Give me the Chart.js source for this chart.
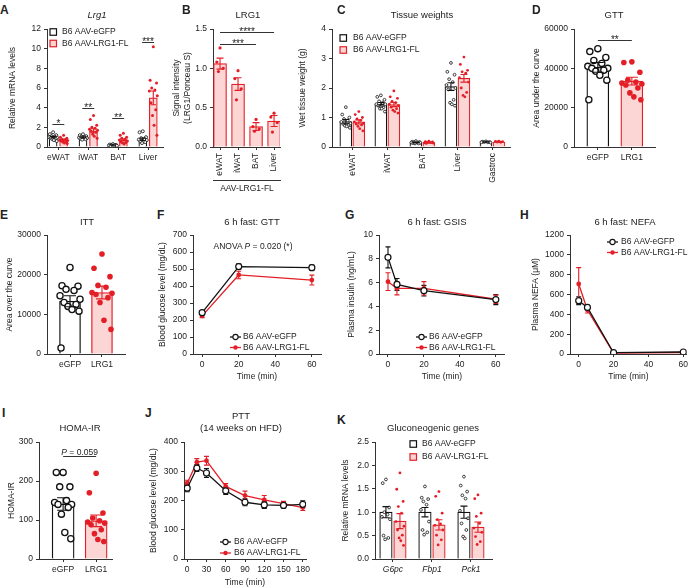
<!DOCTYPE html>
<html><head><meta charset="utf-8">
<script src="https://cdn.jsdelivr.net/npm/chart.js@4/dist/chart.umd.min.js"></script>
<style>
html,body{margin:0;padding:0;background:#fff}
body{position:relative;width:692px;height:588px;overflow:hidden;font-family:'Liberation Sans',Arial,Helvetica,sans-serif;color:#222}
canvas{position:absolute}
.t{position:absolute;transform:translate(-50%,-50%);white-space:nowrap;font-size:9.5px;line-height:1}
.s{font-size:8.5px}
.L{position:absolute;font-weight:bold;font-size:12px;line-height:12px}
.hl{position:absolute;height:0;border-top:1px solid #333}
</style></head><body>
<script>
// ---------------- DATA ----------------
const SERIES = ['B6 AAV-eGFP', 'B6 AAV-LRG1-FL'];
const GROUPS = ['eGFP', 'LRG1'];

// A: Lrg1 mRNA
const A_CATS = ['eWAT', 'iWAT', 'BAT', 'Liver'];
const A_YTICKS = [0, 2, 4, 6, 8, 10, 12];
const A_GFP = [1.0, 0.98, 0.2, 0.78];
const A_GFP_SEM = [0.08, 0.06, 0.02, 0.12];
const A_LRG = [0.72, 1.65, 0.72, 5.0];
const A_LRG_SEM = [0.08, 0.2, 0.1, 0.7];
const A_GFP_PTS = [
  [1.5, 1.3, 1.2, 1.1, 1.05, 1.0, 0.95, 0.9, 0.85, 0.8, 0.7, 0.6],
  [1.3, 1.2, 1.1, 1.05, 1.0, 0.95, 0.9, 0.85, 0.8, 0.75],
  [0.3, 0.25, 0.22, 0.2, 0.18, 0.15, 0.12, 0.1],
  [1.6, 1.5, 1.0, 0.9, 0.8, 0.75, 0.7, 0.6, 0.5, 0.4]
];
const A_LRG_PTS = [
  [1.2, 1.0, 0.9, 0.8, 0.75, 0.7, 0.65, 0.6, 0.55, 0.5, 0.4, 0.35],
  [3.2, 2.8, 2.2, 2.0, 1.9, 1.8, 1.7, 1.6, 1.5, 1.3, 1.1, 0.9],
  [1.4, 1.2, 1.0, 0.9, 0.8, 0.7, 0.6, 0.5, 0.45, 0.4, 0.3],
  [10.2, 6.8, 6.5, 6.0, 5.8, 5.7, 5.2, 4.5, 3.8, 3.2, 2.2, 1.2]
];
const A_SIG_TEXT = ['*', '**', '**', '***'];
const A_SIG_Y = [2.38, 4.0, 2.99, 10.64];

// B: LRG1 protein
const B_CATS = ['eWAT', 'iWAT', 'BAT', 'Liver'];
const B_YTICKS = [0, 0.5, 1.0, 1.5];
const B_VALS = [1.06, 0.8, 0.26, 0.33];
const B_SEM = [0.07, 0.08, 0.05, 0.07];
const B_PTS = [[1.26, 1.08, 1.0, 0.96], [0.97, 0.87, 0.74, 0.6], [0.35, 0.26, 0.23, 0.2], [0.43, 0.38, 0.31, 0.19]];
const B_SIG = [{ x1: 0, x2: 3, y: 1.466, text: '****' }, { x1: 0, x2: 2, y: 1.305, text: '***' }];

// C: tissue weights
const C_CATS = ['eWAT', 'iWAT', 'BAT', 'Liver', 'Gastroc'];
const C_YTICKS = [0, 1, 2, 3, 4];
const C_GFP = [0.86, 1.45, 0.15, 2.05, 0.17];
const C_GFP_SEM = [0.07, 0.06, 0.01, 0.13, 0.01];
const C_LRG = [0.85, 1.44, 0.15, 2.33, 0.17];
const C_LRG_SEM = [0.07, 0.07, 0.01, 0.13, 0.01];
const C_GFP_PTS = [
  [1.35, 1.1, 1.0, 0.95, 0.9, 0.85, 0.8, 0.78, 0.75, 0.72, 0.7, 0.65],
  [1.75, 1.7, 1.6, 1.55, 1.5, 1.45, 1.45, 1.4, 1.35, 1.3, 1.3, 1.2],
  [0.2, 0.18, 0.17, 0.16, 0.15, 0.15, 0.14, 0.13, 0.12, 0.12],
  [2.85, 2.55, 2.45, 2.3, 2.2, 2.1, 2.0, 1.95, 1.6, 1.5, 1.45, 1.4],
  [0.19, 0.18, 0.17, 0.17, 0.16, 0.16, 0.15]
];
const C_LRG_PTS = [
  [1.2, 1.1, 1.0, 0.95, 0.9, 0.85, 0.8, 0.78, 0.75, 0.7, 0.62, 0.55],
  [1.9, 1.7, 1.65, 1.55, 1.5, 1.45, 1.4, 1.35, 1.3, 1.25, 1.2, 1.15],
  [0.2, 0.18, 0.17, 0.16, 0.15, 0.14, 0.13, 0.12],
  [3.05, 2.8, 2.6, 2.55, 2.5, 2.35, 2.2, 2.0, 1.85, 1.75, 1.7],
  [0.2, 0.19, 0.18, 0.17, 0.16]
];

// D: GTT AUC
const D_YTICKS = [0, 20000, 40000, 60000];
const D_VALS = [40500, 33500];
const D_SEM = [2500, 2000];
const D_PTS = [
  [50000, 48500, 45500, 44000, 42500, 41000, 40000, 40000, 39000, 38500, 36500, 34000, 24000],
  [43300, 43000, 38000, 34000, 33000, 32500, 32000, 31500, 30000, 27500, 25500, 24000]
];
const D_SIG = [{ x1: 0, x2: 1, y: 54400, text: '**' }];

// E: ITT AOC
const E_YTICKS = [0, 10000, 20000, 30000];
const E_VALS = [13300, 15500];
const E_SEM = [1400, 1600];
const E_PTS = [
  [21800, 17200, 17100, 16300, 16000, 14700, 13800, 13000, 12500, 12000, 11200, 10800, 1500],
  [25200, 21600, 19500, 17300, 16800, 15500, 15300, 15000, 14200, 13000, 8500, 6200]
];

// F: GTT
const F_T = [0, 20, 60];
const F_XTICKS = [0, 20, 40, 60];
const F_YTICKS = [0, 100, 200, 300, 400, 500, 600, 700];
const F_GFP = [243, 514, 508];
const F_GFP_SEM = [10, 16, 15];
const F_LRG = [224, 465, 435];
const F_LRG_SEM = [10, 22, 29];

// G: GSIS
const G_T = [0, 5, 20, 60];
const G_XTICKS = [0, 20, 40, 60];
const G_YTICKS = [0, 2, 4, 6, 8, 10];
const G_GFP = [8.12, 5.85, 5.32, 4.57];
const G_GFP_SEM = [0.88, 0.5, 0.45, 0.42];
const G_LRG = [6.08, 5.52, 5.52, 4.6];
const G_LRG_SEM = [0.75, 0.55, 0.56, 0.35];

// H: NEFA
const H_T = [0, 5, 20, 60];
const H_XTICKS = [0, 20, 40, 60];
const H_YTICKS = [0, 200, 400, 600, 800, 1000, 1200];
const H_GFP = [538, 470, 13, 20];
const H_GFP_SEM = [40, 20, 3, 3];
const H_LRG = [706, 444, 10, 15];
const H_LRG_SEM = [165, 30, 3, 3];

// I: HOMA-IR
const I_YTICKS = [0, 100, 200, 300];
const I_VALS = [141, 98];
const I_SEM = [16, 15];
const I_PTS = [
  [222, 222, 185, 185, 150, 145, 140, 140, 132, 115, 68, 52],
  [220, 170, 118, 105, 98, 95, 92, 88, 75, 65, 50, 45]
];
const I_SIG = [{ x1: 0, x2: 1, y: 264, parts: [['P', true], [' = 0.059', false]] }];

// J: PTT
const J_T = [0, 15, 30, 60, 90, 120, 150, 180];
const J_XTICKS = [0, 30, 60, 90, 120, 150, 180];
const J_YTICKS = [0, 100, 200, 300, 400];
const J_GFP = [242, 311, 294, 233, 194, 185, 183, 187];
const J_GFP_SEM = [12, 12, 15, 12, 12, 12, 8, 12];
const J_LRG = [259, 331, 336, 248, 217, 202, 189, 176];
const J_LRG_SEM = [10, 12, 15, 10, 15, 15, 8, 10];

// K: gluconeogenic genes
const K_CATS = ['G6pc', 'Fbp1', 'Pck1'];
const K_YTICKS = [0, 0.5, 1.0, 1.5, 2.0, 2.5];
const K_GFP = [1.0, 1.0, 1.0];
const K_GFP_SEM = [0.12, 0.1, 0.13];
const K_LRG = [0.81, 0.73, 0.68];
const K_LRG_SEM = [0.16, 0.11, 0.11];
const K_GFP_PTS = [
  [1.7, 1.62, 1.1, 1.0, 0.95, 0.9, 0.85, 0.5, 0.45, 0.42],
  [1.55, 1.31, 1.28, 1.23, 1.16, 1.05, 0.8, 0.62, 0.57, 0.52],
  [1.76, 1.57, 1.44, 1.36, 1.29, 1.03, 0.87, 0.76, 0.62, 0.48, 0.44]
];
const K_LRG_PTS = [
  [1.84, 1.49, 1.23, 1.12, 0.98, 0.8, 0.7, 0.62, 0.51, 0.45, 0.39, 0.29],
  [1.44, 1.34, 0.98, 0.84, 0.75, 0.72, 0.62, 0.51, 0.41, 0.3],
  [1.37, 1.29, 0.98, 0.91, 0.76, 0.66, 0.57, 0.48, 0.37, 0.31]
];

// ---------------- STYLE / HELPERS ----------------
const FONT = "'Liberation Sans', Arial, Helvetica, sans-serif";
const INK = '#222', AX = '#333', RED = '#e31e26', PINK = '#fcd5d5', BLK = '#111';
const FS = 8.5, LH = FS * 1.2;
const STY = { gfp: { fill: '#fff', line: BLK, open: true }, lrg: { fill: PINK, line: RED, open: false } };
const JIT = [0, -0.8, 0.8, -0.4, 0.4, -1, 1, -0.6, 0.6, -0.2, 0.2, 0.9, -0.9];
const fInt = v => String(v);
const f1 = v => Number(v).toFixed(1);

function html(cls, x, y, content, extra) {
  const d = document.createElement('div');
  d.className = cls; d.style.left = x + 'px'; d.style.top = y + 'px';
  d.innerHTML = content;
  if (extra) Object.assign(d.style, extra);
  document.body.appendChild(d);
  return d;
}
function mkCanvas(box) {
  const c = document.createElement('canvas');
  c.width = box.w; c.height = box.h;
  Object.assign(c.style, { left: box.left + 'px', top: box.top + 'px', width: box.w + 'px', height: box.h + 'px' });
  document.body.appendChild(c);
  return c;
}
function yAxis(p) {
  const t = p.yTicks;
  return {
    type: 'linear', position: 'left', min: t[0], max: t[t.length - 1],
    afterBuildTicks: s => { s.ticks = t.map(v => ({ value: v })); },
    afterFit: s => { s.width = p.plot.l - p.box.left; s.paddingTop = 0; s.paddingBottom = 0; },
    ticks: { font: { size: FS, family: FONT }, color: INK, padding: 3, callback: v => p.yFmt(v) },
    grid: { drawOnChartArea: false, tickLength: 3, color: AX, lineWidth: 1 },
    border: { color: AX, width: 1 },
    title: { display: true, text: p.yTitle, font: { size: FS, family: FONT }, color: INK,
      padding: { top: p.yTitleX - p.box.left - LH / 2, bottom: 0 } }
  };
}
// category axis drawn on a linear scale: category i sits at value i
function xCatLin(p, cats) {
  return {
    type: 'linear', min: p.xMin, max: p.xMax, offset: false,
    afterBuildTicks: s => { s.ticks = cats.map((_, i) => ({ value: i })); },
    afterFit: s => { s.height = p.box.top + p.box.h - p.plot.b; s.paddingLeft = 0; s.paddingRight = 0; },
    ticks: { font: { size: FS, family: FONT, style: p.italicX ? 'italic' : 'normal' }, color: INK, padding: 3,
      autoSkip: false, maxRotation: p.rotate ? 90 : 0, minRotation: p.rotate ? 90 : 0,
      callback: (v, i) => cats[i] },
    grid: { drawOnChartArea: false, tickLength: 3, color: AX, offset: false },
    border: { color: AX, width: 1 }
  };
}
function xLin(p) {
  const t = p.xTicks;
  return {
    type: 'linear', min: p.xMin, max: p.xMax,
    afterBuildTicks: s => { s.ticks = t.map(v => ({ value: v })); },
    afterFit: s => { s.height = p.box.top + p.box.h - p.plot.b; s.paddingLeft = 0; s.paddingRight = 0; },
    ticks: { font: { size: FS, family: FONT }, color: INK, padding: 3, callback: v => String(v) },
    grid: { drawOnChartArea: false, tickLength: 3, color: AX },
    border: { color: AX, width: 1 },
    title: { display: true, text: 'Time (min)', font: { size: FS, family: FONT }, color: INK,
      padding: { top: 0, bottom: p.box.top + p.box.h - p.xTitleY - LH / 2 } }
  };
}
function baseOptions(p, scales) {
  return {
    responsive: false, devicePixelRatio: 1, animation: false, events: [],
    layout: { padding: { left: 0, top: p.plot.t - p.box.top, right: p.box.left + p.box.w - p.plot.r, bottom: 0 } },
    plugins: { legend: { display: false }, tooltip: { enabled: false }, title: { display: false } },
    scales
  };
}
function drawErr(chart, behind) {
  const ctx = chart.ctx;
  chart.data.datasets.forEach((ds, di) => {
    if (!ds.err || !!ds.errBehind !== behind) return;
    const meta = chart.getDatasetMeta(di);
    const ys = chart.scales[meta.yAxisID];
    ctx.save();
    ctx.lineWidth = 1.1;
    meta.data.forEach((el, i) => {
      const v = ds.data[i].y;
      const e = ds.err[i];
      const x = el.x, y1 = ys.getPixelForValue(v + e), y2 = ys.getPixelForValue(v - e);
      const cw = ds.errCap;
      ctx.strokeStyle = Array.isArray(ds.errColor) ? ds.errColor[i] : ds.errColor;
      ctx.beginPath();
      ctx.moveTo(x, y1); ctx.lineTo(x, y2);
      ctx.moveTo(x - cw, y1); ctx.lineTo(x + cw, y1);
      ctx.moveTo(x - cw, y2); ctx.lineTo(x + cw, y2);
      ctx.stroke();
    });
    ctx.restore();
  });
}
const errPlugin = {
  id: 'errbars',
  beforeDatasetsDraw(chart) { drawErr(chart, true); },
  afterDatasetsDraw(chart) { drawErr(chart, false); }
};
function sigPlugin(items) {
  return {
    id: 'sig',
    afterDatasetsDraw(chart) {
      if (!items) return;
      const xs = chart.scales.x, ys = chart.scales.y, ctx = chart.ctx;
      ctx.save();
      items.forEach(it => {
        const x1 = xs.getPixelForValue(it.x1), x2 = xs.getPixelForValue(it.x2), y = Math.round(ys.getPixelForValue(it.y)) + 0.5;
        ctx.strokeStyle = AX; ctx.lineWidth = 1;
        ctx.beginPath(); ctx.moveTo(x1, y); ctx.lineTo(x2, y); ctx.stroke();
        ctx.fillStyle = INK; ctx.textBaseline = 'alphabetic';
        if (it.text) {
          ctx.font = `10px ${FONT}`; ctx.textAlign = 'center';
          ctx.fillText(it.text, (x1 + x2) / 2, y + 2);
        } else {
          let total = 0;
          it.parts.forEach(pt => { ctx.font = `${pt[1] ? 'italic ' : ''}${FS}px ${FONT}`; total += ctx.measureText(pt[0]).width; });
          let x = (x1 + x2) / 2 - total / 2;
          ctx.textAlign = 'left';
          it.parts.forEach(pt => { ctx.font = `${pt[1] ? 'italic ' : ''}${FS}px ${FONT}`; ctx.fillText(pt[0], x, y - 1.5); x += ctx.measureText(pt[0]).width; });
        }
      });
      ctx.restore();
    }
  };
}
function legendPlugin(box, L) {
  return {
    id: 'ilegend',
    afterDraw(chart) {
      if (!L) return;
      const ctx = chart.ctx;
      ctx.save();
      SERIES.forEach((lab, k) => {
        const st = STY[k === 0 ? 'gfp' : 'lrg'];
        const x = L.x - box.left, y = L.y + k * L.gap - box.top;
        if (L.kind === 'box') {
          ctx.fillStyle = st.fill; ctx.strokeStyle = st.line; ctx.lineWidth = 1.2;
          ctx.fillRect(x, y - 3.25, 6.5, 6.5); ctx.strokeRect(x, y - 3.25, 6.5, 6.5);
        } else {
          ctx.strokeStyle = st.line; ctx.lineWidth = 1.3;
          ctx.beginPath(); ctx.moveTo(x, y); ctx.lineTo(x + 11, y); ctx.stroke();
          ctx.beginPath(); ctx.arc(x + 5.5, y, st.open ? 2.6 : 2.2, 0, Math.PI * 2);
          ctx.fillStyle = st.open ? '#fff' : st.line; ctx.fill();
          if (st.open) { ctx.lineWidth = 1.1; ctx.stroke(); }
        }
        ctx.fillStyle = INK; ctx.font = `${FS}px ${FONT}`; ctx.textBaseline = 'middle'; ctx.textAlign = 'left';
        ctx.fillText(lab, L.tx - box.left, y);
      });
      ctx.restore();
    }
  };
}
function dotStyle(style, r) {
  const st = STY[style];
  return st.open
    ? { pointRadius: r, pointBackgroundColor: '#fff', pointBorderColor: BLK, pointBorderWidth: r > 2 ? 1.3 : 0.8 }
    : { pointRadius: r, pointBackgroundColor: RED, pointBorderColor: RED, pointBorderWidth: 0 };
}
const unitPx = p => (p.plot.r - p.plot.l) / (p.xMax - p.xMin);

// grouped bars (several series per category)
function groupedBars(p) {
  const c = mkCanvas(p.box);
  const n = p.series.length, u = unitPx(p);
  const offs = p.series.map((_, k) => (k - (n - 1) / 2) * 2 * p.halfGap / u);
  const datasets = [];
  p.series.forEach((s, k) => {
    const st = STY[s.style];
    datasets.push({ type: 'bar', label: s.label, data: s.vals.map((v, i) => ({ x: i + offs[k], y: v })),
      backgroundColor: st.fill, borderColor: st.line, borderWidth: 1.2, grouped: false, barThickness: p.bw, order: 2,
      err: s.sem, errColor: st.line, errCap: p.cap });
  });
  p.series.forEach((s, k) => {
    const data = [];
    s.pts.forEach((arr, i) => arr.forEach((v, j) => data.push({ x: i + offs[k] + JIT[j % JIT.length] * p.spread / u, y: v })));
    datasets.push(Object.assign({ type: 'scatter', label: s.label, data, order: 1 }, dotStyle(s.style, p.dotR)));
  });
  new Chart(c, {
    type: 'bar',
    data: { datasets },
    options: baseOptions(p, { x: xCatLin(p, p.cats), y: yAxis(p) }),
    plugins: [errPlugin, sigPlugin(p.sig), legendPlugin(p.box, p.legend)]
  });
}
// two-group bars (eGFP vs LRG1)
function pairBars(p) {
  const c = mkCanvas(p.box);
  const u = unitPx(p);
  const datasets = [{ type: 'bar', data: p.vals.map((v, i) => ({ x: i, y: v })),
    backgroundColor: [STY.gfp.fill, STY.lrg.fill], borderColor: [STY.gfp.line, STY.lrg.line],
    borderWidth: 1.3, grouped: false, barThickness: p.bw, order: 2, err: p.sem, errColor: [STY.gfp.line, STY.lrg.line], errCap: p.cap }];
  p.pts.forEach((arr, i) => {
    const data = arr.map((v, j) => ({ x: i + JIT[j % JIT.length] * p.spread / u, y: v }));
    datasets.push(Object.assign({ type: 'scatter', label: GROUPS[i], data, order: 1 }, dotStyle(i === 0 ? 'gfp' : 'lrg', i === 0 ? 3.1 : 2.8)));
  });
  new Chart(c, {
    type: 'bar',
    data: { datasets },
    options: baseOptions(p, { x: xCatLin(p, GROUPS), y: yAxis(p) }),
    plugins: [errPlugin, sigPlugin(p.sig), legendPlugin(p.box, null)]
  });
}
// time-course lines
function lines(p) {
  const c = mkCanvas(p.box);
  const mk = (vals, sem, style, label) => {
    const st = STY[style];
    return { type: 'line', label, data: p.t.map((t, i) => ({ x: t, y: vals[i] })), borderColor: st.line, borderWidth: 1.3,
      tension: 0, fill: false, pointRadius: st.open ? 3 : 2.4, pointBackgroundColor: st.open ? '#fff' : RED,
      pointBorderColor: st.line, pointBorderWidth: st.open ? 1.2 : 0, err: sem, errColor: st.line, errCap: 2.5, errBehind: true };
  };
  new Chart(c, {
    type: 'line',
    data: { datasets: [mk(p.gfp, p.gfpSem, 'gfp', SERIES[0]), mk(p.lrg, p.lrgSem, 'lrg', SERIES[1])] },
    options: baseOptions(p, { x: xLin(p), y: yAxis(p) }),
    plugins: [errPlugin, legendPlugin(p.box, p.legend)]
  });
}

// ---------------- PANELS ----------------
groupedBars({
  box: { left: 0, top: 20, w: 170, h: 150 }, plot: { l: 47, t: 29, r: 163, b: 147 }, xMin: -0.38, xMax: 3.5,
  cats: A_CATS, yTicks: A_YTICKS, yFmt: fInt, yTitle: 'Relative mRNA levels', yTitleX: 12.5,
  bw: 8, halfGap: 5.25, cap: 2.8, spread: 4, dotR: 1.5,
  series: [
    { label: SERIES[0], style: 'gfp', vals: A_GFP, sem: A_GFP_SEM, pts: A_GFP_PTS },
    { label: SERIES[1], style: 'lrg', vals: A_LRG, sem: A_LRG_SEM, pts: A_LRG_PTS }
  ],
  sig: A_CATS.map((_, i) => ({ x1: i - 0.2, x2: i + 0.2, y: A_SIG_Y[i], text: A_SIG_TEXT[i] })),
  legend: { kind: 'box', x: 50, y: 32, gap: 11.5, tx: 62 }
});
groupedBars({
  box: { left: 168, top: 20, w: 118, h: 160 }, plot: { l: 213, t: 29, r: 280, b: 147 }, xMin: -0.39, xMax: 3.33,
  cats: B_CATS, yTicks: B_YTICKS, yFmt: f1, yTitle: ['Signal intensity', '(LRG1/Ponceau S)'], yTitleX: 177,
  bw: 13, halfGap: 0, cap: 3.5, spread: 4, dotR: 1.6, rotate: true,
  series: [{ label: 'LRG1', style: 'lrg', vals: B_VALS, sem: B_SEM, pts: B_PTS }],
  sig: B_SIG
});
groupedBars({
  box: { left: 290, top: 20, w: 225, h: 170 }, plot: { l: 332, t: 29, r: 510, b: 147 }, xMin: -0.58, xMax: 4.5,
  cats: C_CATS, yTicks: C_YTICKS, yFmt: fInt, yTitle: 'Wet tissue weight (g)', yTitleX: 303,
  bw: 12, halfGap: 6.5, cap: 3.5, spread: 4.5, dotR: 1.4, rotate: true,
  series: [
    { label: SERIES[0], style: 'gfp', vals: C_GFP, sem: C_GFP_SEM, pts: C_GFP_PTS },
    { label: SERIES[1], style: 'lrg', vals: C_LRG, sem: C_LRG_SEM, pts: C_LRG_PTS }
  ],
  legend: { kind: 'box', x: 340, y: 38, gap: 12, tx: 353 }
});
pairBars({
  box: { left: 528, top: 20, w: 164, h: 150 }, plot: { l: 574, t: 29, r: 655, b: 147 }, xMin: -0.7, xMax: 1.68,
  yTicks: D_YTICKS, yFmt: fInt, yTitle: 'Area under the curve', yTitleX: 537,
  bw: 22, cap: 6, spread: 10, vals: D_VALS, sem: D_SEM, pts: D_PTS, sig: D_SIG
});
pairBars({
  box: { left: 0, top: 225, w: 135, h: 150 }, plot: { l: 47, t: 235, r: 125, b: 354 }, xMin: -0.72, xMax: 1.72,
  yTicks: E_YTICKS, yFmt: fInt, yTitle: 'Area over the curve', yTitleX: 10,
  bw: 21, cap: 6, spread: 10, vals: E_VALS, sem: E_SEM, pts: E_PTS
});
lines({
  box: { left: 155, top: 225, w: 175, h: 160 }, plot: { l: 193, t: 235, r: 321, b: 354 },
  t: F_T, xTicks: F_XTICKS, xMin: -5, xMax: 65, xTitleY: 377,
  yTicks: F_YTICKS, yFmt: fInt, yTitle: 'Blood glucose level (mg/dL)', yTitleX: 163,
  gfp: F_GFP, gfpSem: F_GFP_SEM, lrg: F_LRG, lrgSem: F_LRG_SEM,
  legend: { kind: 'line', x: 230, y: 337, gap: 10.5, tx: 243 }
});
lines({
  box: { left: 335, top: 225, w: 175, h: 160 }, plot: { l: 379, t: 235, r: 505, b: 354 },
  t: G_T, xTicks: G_XTICKS, xMin: -5, xMax: 65, xTitleY: 377,
  yTicks: G_YTICKS, yFmt: fInt, yTitle: 'Plasma insulin (ng/mL)', yTitleX: 352,
  gfp: G_GFP, gfpSem: G_GFP_SEM, lrg: G_LRG, lrgSem: G_LRG_SEM,
  legend: { kind: 'line', x: 416, y: 337, gap: 10.5, tx: 429 }
});
lines({
  box: { left: 520, top: 225, w: 172, h: 160 }, plot: { l: 570, t: 235, r: 692, b: 354 },
  t: H_T, xTicks: H_XTICKS, xMin: -5, xMax: 62, xTitleY: 377,
  yTicks: H_YTICKS, yFmt: fInt, yTitle: 'Plasma NEFA (μM)', yTitleX: 536,
  gfp: H_GFP, gfpSem: H_GFP_SEM, lrg: H_LRG, lrgSem: H_LRG_SEM,
  legend: { kind: 'line', x: 607, y: 242, gap: 10.5, tx: 621 }
});
pairBars({
  box: { left: 0, top: 432, w: 120, h: 150 }, plot: { l: 39, t: 442, r: 112, b: 559 }, xMin: -0.73, xMax: 1.48,
  yTicks: I_YTICKS, yFmt: fInt, yTitle: 'HOMA-IR', yTitleX: 12,
  bw: 22, cap: 6, spread: 8.5, vals: I_VALS, sem: I_SEM, pts: I_PTS, sig: I_SIG
});
lines({
  box: { left: 145, top: 432, w: 170, h: 156 }, plot: { l: 184, t: 442, r: 306, b: 559 },
  t: J_T, xTicks: J_XTICKS, xMin: -5, xMax: 185, xTitleY: 583,
  yTicks: J_YTICKS, yFmt: fInt, yTitle: 'Blood glucose level (mg/dL)', yTitleX: 154,
  gfp: J_GFP, gfpSem: J_GFP_SEM, lrg: J_LRG, lrgSem: J_LRG_SEM,
  legend: { kind: 'line', x: 220, y: 542, gap: 11, tx: 234 }
});
groupedBars({
  box: { left: 338, top: 432, w: 160, h: 156 }, plot: { l: 375, t: 442, r: 492, b: 559 }, xMin: -0.46, xMax: 2.54,
  cats: K_CATS, yTicks: K_YTICKS, yFmt: f1, yTitle: 'Relative mRNA levels', yTitleX: 346, italicX: true,
  bw: 12.5, halfGap: 7, cap: 3.5, spread: 4, dotR: 1.4,
  series: [
    { label: SERIES[0], style: 'gfp', vals: K_GFP, sem: K_GFP_SEM, pts: K_GFP_PTS },
    { label: SERIES[1], style: 'lrg', vals: K_LRG, sem: K_LRG_SEM, pts: K_LRG_PTS }
  ],
  legend: { kind: 'box', x: 410, y: 444, gap: 13, tx: 422 }
});

// ---------------- TEXT OVERLAYS ----------------
[['A', 0, 3.5], ['B', 182, 3.5], ['C', 337, 3.5], ['D', 532, 3.5],
 ['E', 0, 208.5], ['F', 157, 208.5], ['G', 345, 208.5], ['H', 520, 208.5],
 ['I', 2, 406.5], ['J', 145, 406.5], ['K', 337, 413.5]].forEach(l => html('L', l[1], l[2], l[0]));
html('t', 97, 15, '<i>Lrg1</i>');
html('t', 248, 15, 'LRG1');
html('t', 422, 15, 'Tissue weights');
html('t', 614, 15, 'GTT');
html('t', 87, 222, 'ITT');
html('t', 252, 222, '6 h fast: GTT');
html('t', 437, 222, '6 h fast: GSIS');
html('t', 625, 222, '6 h fast: NEFA');
html('t', 80, 428, 'HOMA-IR');
html('t', 241, 416, 'PTT');
html('t', 241, 428, '(14 weeks on HFD)');
html('t', 433, 428, 'Gluconeogenic genes');
html('t s', 253, 246, 'ANOVA <i>P</i> = 0.020 (*)');
html('hl', 213, 180, '', { width: '68px' });
html('t s', 247, 188, 'AAV-LRG1-FL');
</script>
</body></html>
